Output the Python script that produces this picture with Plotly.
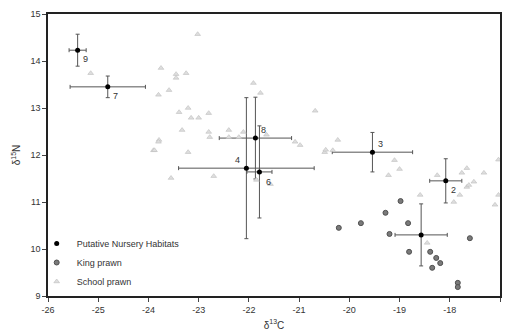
import plotly.graph_objects as go

# Putative nursery habitats (means with error bars)
nursery_labels = ["", "2", "3", "4", "6", "7", "8", "9"]
nursery_x = [-18.57, -18.08, -19.54, -22.05, -21.79, -24.81, -21.87, -25.41]
nursery_y = [10.30, 11.45, 12.06, 11.72, 11.64, 13.45, 12.36, 14.23]
nursery_xerr = [0.52, 0.32, 0.80, 1.35, 0.25, 0.75, 0.72, 0.17]
nursery_yerr = [0.66, 0.47, 0.42, 1.50, 0.98, 0.23, 0.87, 0.34]
nursery_label_dx = [8, 8, 8, -9, 9, 8, 8, 8]
nursery_label_dy = [8, 9, -8, -8, 10, 9, -8, 9]

# King prawn
king_x = [-18.98, -19.28, -19.77, -20.21, -18.83, -19.20, -18.81, -18.39,
          -18.27, -18.19, -18.35, -17.60, -17.84, -17.84]
king_y = [11.02, 10.77, 10.55, 10.45, 10.55, 10.32, 9.94, 9.94,
          9.81, 9.70, 9.60, 10.23, 9.28, 9.19]

# School prawn
school_x = [-25.15, -23.75, -23.80, -23.90, -23.79, -23.02, -23.45, -23.25,
            -23.45, -23.59, -23.21, -23.39, -23.15, -23.00, -22.80, -23.33,
            -23.80, -23.88, -22.80, -22.78, -22.40, -22.11, -22.20, -23.21,
            -23.55, -22.70, -21.91, -21.77, -20.68, -20.98, -20.49, -20.33,
            -21.65, -21.08, -20.23, -20.47, -21.85, -21.57, -19.10, -19.00,
            -19.22, -18.25, -17.76, -17.66, -17.32, -17.52, -17.66, -18.59,
            -17.80, -17.92, -17.62, -17.10, -17.03, -18.45, -17.03, -22.40]
school_y = [13.74, 13.85, 13.28, 12.10, 12.32, 14.57, 13.72, 13.74,
            13.64, 13.38, 13.00, 12.91, 12.79, 12.79, 12.89, 12.53,
            12.28, 12.10, 12.49, 12.38, 12.53, 12.49, 12.38, 12.06,
            11.51, 11.55, 13.53, 13.32, 12.94, 12.21, 12.06, 12.10,
            12.43, 12.28, 12.32, 12.11, 11.47, 11.38, 11.89, 11.70,
            11.57, 11.57, 11.62, 11.72, 11.62, 11.43, 11.32, 11.15,
            11.15, 11.00, 11.36, 10.94, 11.15, 10.13, 11.90, 12.38]

x_ticks = [-26, -25, -24, -23, -22, -21, -20, -19, -18, -17]
y_ticks = [9, 10, 11, 12, 13, 14, 15]

fig = go.Figure()

fig.add_trace(go.Scatter(
    x=nursery_x, y=nursery_y, mode="markers",
    name="Putative Nursery Habitats",
    marker=dict(symbol="circle", size=5, color="black"),
    error_x=dict(type="data", array=nursery_xerr, color="#555", thickness=1, width=2),
    error_y=dict(type="data", array=nursery_yerr, color="#555", thickness=1, width=2),
))

fig.add_trace(go.Scatter(
    x=king_x, y=king_y, mode="markers", name="King prawn",
    marker=dict(symbol="circle", size=5, color="#7a7a7a",
                line=dict(color="#505050", width=1)),
))

fig.add_trace(go.Scatter(
    x=school_x, y=school_y, mode="markers", name="School prawn",
    marker=dict(symbol="triangle-up", size=5, color="#dedede",
                line=dict(color="#bdbdbd", width=0.6)),
))

for lbl, xv, yv, dx, dy in zip(nursery_labels, nursery_x, nursery_y,
                               nursery_label_dx, nursery_label_dy):
    if lbl:
        fig.add_annotation(x=xv, y=yv, text=lbl, showarrow=False,
                           xshift=dx, yshift=-dy,
                           font=dict(size=9, color="#333"))

fig.update_layout(
    width=506, height=336,
    margin=dict(l=48, r=4, t=14, b=40),
    paper_bgcolor="white", plot_bgcolor="white",
    font=dict(family="Arial, Liberation Sans, sans-serif", size=9, color="#333"),
    showlegend=True,
    legend=dict(x=-0.025, y=0.0, xanchor="left", yanchor="bottom",
                bgcolor="rgba(255,255,255,0)", font=dict(size=9, color="#333"),
                itemsizing="trace", itemwidth=30, tracegroupgap=0),
)

fig.update_xaxes(
    range=[-26, -17], tickvals=x_ticks, ticktext=[str(v) for v in x_ticks],
    showgrid=False, zeroline=False, showline=True, linecolor="#222", linewidth=1.5,
    mirror=True, ticks="outside", ticklen=4, tickcolor="#444",
    title=dict(text="δ<sup>13</sup>C", font=dict(size=10, color="#333"), standoff=8),
)
fig.update_yaxes(
    range=[9, 15], tickvals=y_ticks, ticktext=[str(v) for v in y_ticks],
    showgrid=False, zeroline=False, showline=True, linecolor="#222", linewidth=1.5,
    mirror=True, ticks="outside", ticklen=4, tickcolor="#444",
    title=dict(text="δ<sup>15</sup>N", font=dict(size=10, color="#333"), standoff=8),
)

fig.write_html("out.html")
